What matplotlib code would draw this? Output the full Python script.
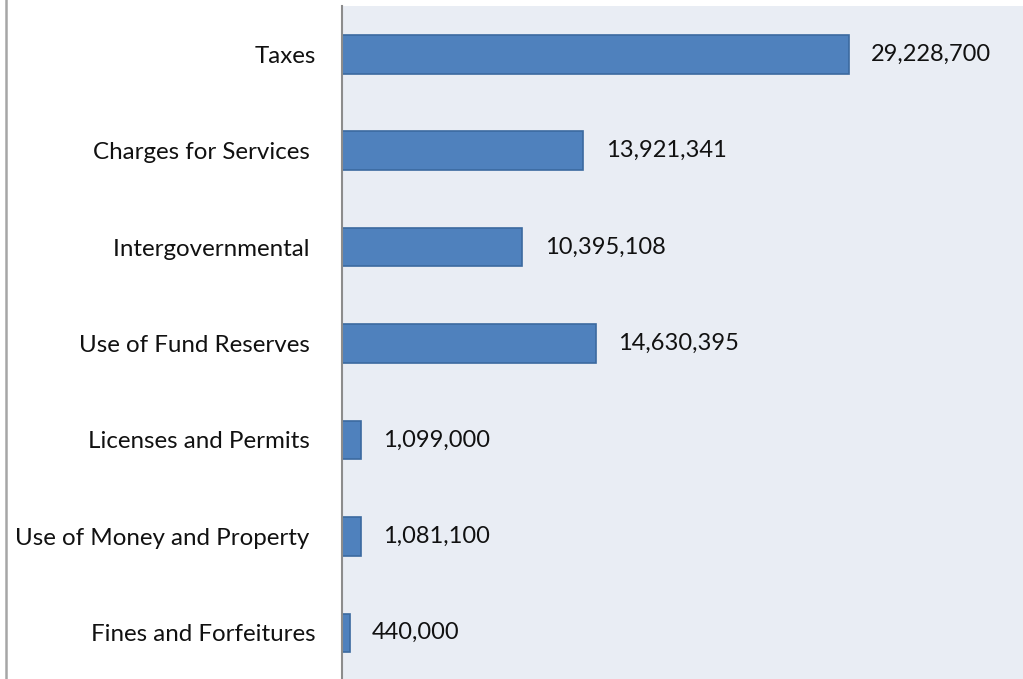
import matplotlib
matplotlib.use("Agg")
import matplotlib.pyplot as plt
from matplotlib.lines import Line2D

categories = [
    "Taxes",
    "Charges for Services ",
    "Intergovernmental ",
    "Use of Fund Reserves ",
    "Licenses and Permits ",
    "Use of Money and Property ",
    "Fines and Forfeitures",
]
values = [29228700, 13921341, 10395108, 14630395, 1099000, 1081100, 440000]

W, H = 1023, 679
fig = plt.figure(figsize=(W / 100, H / 100), dpi=100)
fig.patch.set_facecolor("white")

# plot area: left edge at x=342, top at y=6, running slightly past the bottom
left, top, right, bottom = 342, 6, 1023, 681
ax = fig.add_axes([left / W, (H - bottom) / H, (right - left) / W, (bottom - top) / H])
ax.set_facecolor("#E9EDF4")

y = list(range(len(categories)))
ax.barh(y, values, height=0.4, color="#4F81BD", edgecolor="#3B6A9F", linewidth=1.2)

ax.set_xlim(0, 39.26e6)
ax.set_ylim(len(categories) - 0.5, -0.5)

ax.set_yticks(y)
ax.set_yticklabels(categories, fontsize=17.4, fontfamily="Lato", color="#111111")
ax.tick_params(axis="y", length=0, pad=19)
ax.set_xticks([])

for v, yi in zip(values, y):
    ax.annotate(f"{v:,}", xy=(v, yi), xytext=(16, 0), textcoords="offset points",
                va="center", ha="left", fontsize=17, fontfamily="Lato", color="#111111")

for s in ["top", "right", "bottom"]:
    ax.spines[s].set_visible(False)
ax.spines["left"].set_color("#8C8C8C")
ax.spines["left"].set_linewidth(1.5)

# outer chart border on the left
fig.add_artist(Line2D([5.5 / W, 5.5 / W], [0, 1], transform=fig.transFigure,
                      color="#A6A6A6", linewidth=1.8))

fig.savefig("out.png", dpi=100)
